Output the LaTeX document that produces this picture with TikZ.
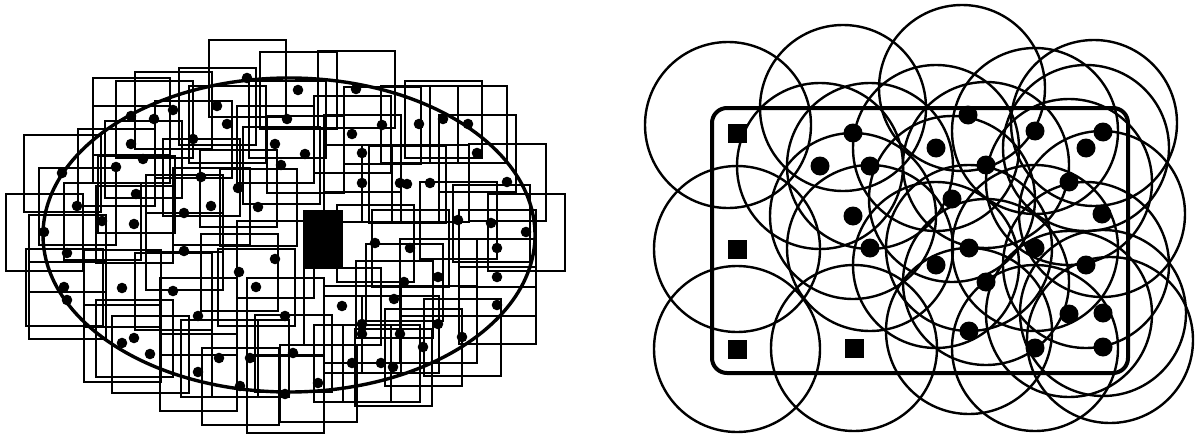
\documentclass[tikz,border=0pt]{standalone}
\usepackage{tikz}

\begin{document}
\begin{tikzpicture}[x=1pt, y=-1pt,
  cell/.style={draw, line width=2pt},
  zone/.style={draw, line width=3.4pt},
  sensor/.style={fill=black},
  reach/.style={draw, line width=2.4pt},
  beacon/.style={fill=black},
  field/.style={draw, line width=4pt, rounded corners=15pt}]
  \useasboundingbox (0,0) rectangle (1197,439);
  % left: square coverage cells round each sensor
  \foreach \x/\y in {247/78,217/106,173/110,154/119,131/116,227/124,287/119,193/139,
      131/144,143/159,116/167,62/173,275/144,281/165,201/177,238/188,136/194,77/206,
      211/206,258/207,184/213,102/221,134/224,44/232,67/253,184/251,275/259,239/272,
      122/288,64/287,67/300,173/291,256/287,198/316,285/316,134/338,122/343,150/354,
      219/358,250/358,198/372,240/386,285/394,298/90,356/89,382/125,419/124,443/119,
      468/124,352/134,362/153,305/154,477/153,362/183,400/183,407/184,430/183,507/182,
      458/220,491/223,526/232,375/243,410/248,497/248,404/282,438/277,497/277,394/299,
      342/306,497/305,362/324,362/334,400/334,438/324,462/337,423/347,293/353,352/363,
      381/363,393/367,318/383}{
    \draw[cell] ([shift={(-38.5,-38.5)}]\x,\y) rectangle ++(77,77);
    \fill[sensor] (\x,\y) circle (5.3);
  }
  \draw[zone] (289,235) ellipse (246 and 157);
  \fill[black] (303,210) rectangle (343,268);

  % right: radio ranges in a rounded field
  \draw[field] (712,108) rectangle (1128,373);
  \foreach \x/\y in {728/125,737/249,737/349,854/348,843/108,820/166,870/166,853/216,
      870/248,962/88,1035/131,1094/123,1086/148,936/148,986/165,1069/182,952/199,
      1102/214,969/248,1035/248,936/265,986/282,1086/265,1069/314,1103/313,969/331,
      1035/348,1110/340}
    \draw[reach] (\x,\y) circle (83);
  \foreach \x/\y in {737/133,737/249,737/349,854/348}
    \fill[beacon] ([shift={(-9.5,-9.5)}]\x,\y) rectangle ++(19,19);
  \foreach \x/\y in {853/133,820/166,870/166,853/216,870/248,968/115,1035/131,
      1103/132,1086/148,936/148,986/165,1069/182,952/199,1102/214,969/248,1035/248,
      936/265,986/282,1086/265,1069/314,1103/313,969/331,1035/348,1103/347}
    \fill[sensor] (\x,\y) circle (9.5);
\end{tikzpicture}
\end{document}
